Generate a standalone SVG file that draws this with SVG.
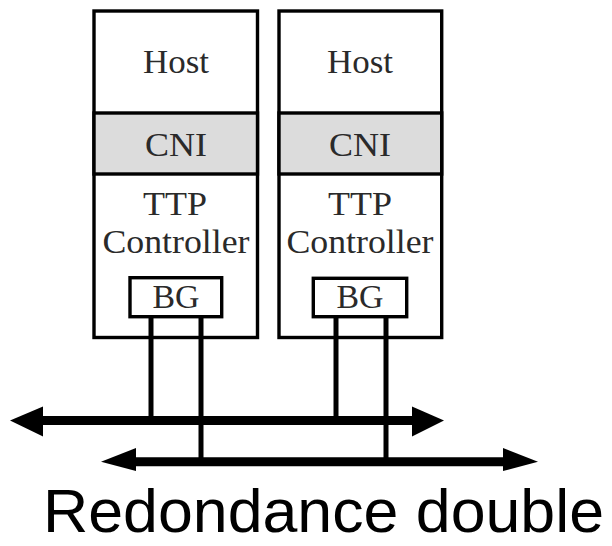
<svg xmlns="http://www.w3.org/2000/svg" width="612" height="546" viewBox="0 0 612 546">
<style>
.box{fill:#fff;stroke:#000;stroke-width:3.4}
.cni{fill:#dcdcdc;stroke:#000;stroke-width:3.4}
.lbl{font-family:"Liberation Serif","Times New Roman",serif;font-size:33px;fill:#2a2a2a;text-anchor:middle}
.wire{stroke:#000;stroke-width:5;fill:none}
.bus{stroke:#000;stroke-width:9;fill:none}
.head{fill:#000}
.title{font-family:"Liberation Sans",Arial,sans-serif;font-size:61px;fill:#000}
</style>
<rect width="612" height="546" fill="#fff"/>
<g id="node1">
<rect class="box" x="94" y="11" width="163.5" height="326.5"/>
<rect class="cni" x="94" y="113" width="163.5" height="61"/>
<text class="lbl" x="176" y="73" textLength="66" lengthAdjust="spacingAndGlyphs">Host</text>
<text class="lbl" x="176" y="156" textLength="62" lengthAdjust="spacingAndGlyphs">CNI</text>
<text class="lbl" x="175" y="215" textLength="64" lengthAdjust="spacingAndGlyphs">TTP</text>
<text class="lbl" x="176" y="253" textLength="147" lengthAdjust="spacingAndGlyphs">Controller</text>
</g>
<g id="bg1">
<rect class="box" x="130" y="277.7" width="91.7" height="39"/>
<text class="lbl" x="176" y="308" textLength="47" lengthAdjust="spacingAndGlyphs">BG</text>
</g>
<g id="node2">
<rect class="box" x="279" y="11" width="162.7" height="326.5"/>
<rect class="cni" x="279" y="113" width="162.7" height="61"/>
<text class="lbl" x="360" y="73" textLength="66" lengthAdjust="spacingAndGlyphs">Host</text>
<text class="lbl" x="360" y="156" textLength="62" lengthAdjust="spacingAndGlyphs">CNI</text>
<text class="lbl" x="360" y="215" textLength="64" lengthAdjust="spacingAndGlyphs">TTP</text>
<text class="lbl" x="360" y="253" textLength="147" lengthAdjust="spacingAndGlyphs">Controller</text>
</g>
<g id="bg2">
<rect class="box" x="313.3" y="278.3" width="93.4" height="38.4"/>
<text class="lbl" x="360" y="308" textLength="47" lengthAdjust="spacingAndGlyphs">BG</text>
</g>
<g id="connectors">
<line class="wire" x1="151" y1="318" x2="151" y2="420"/>
<line class="wire" x1="201" y1="318" x2="201" y2="462"/>
<line class="wire" x1="336" y1="318" x2="336" y2="420"/>
<line class="wire" x1="386" y1="318" x2="386" y2="462"/>
<line class="bus" x1="40" y1="420.5" x2="415" y2="420.5"/>
<polygon class="head" points="10,420.5 43,406.5 43,436.5"/>
<polygon class="head" points="444,420.5 412,406.5 412,436.5"/>
<line class="bus" x1="133" y1="461.7" x2="506" y2="461.7"/>
<polygon class="head" points="101,461.7 136,448 136,471"/>
<polygon class="head" points="538,461.7 503,448 503,471"/>
</g>
<text class="title" x="43" y="532" textLength="561" lengthAdjust="spacingAndGlyphs">Redondance double</text>
</svg>
